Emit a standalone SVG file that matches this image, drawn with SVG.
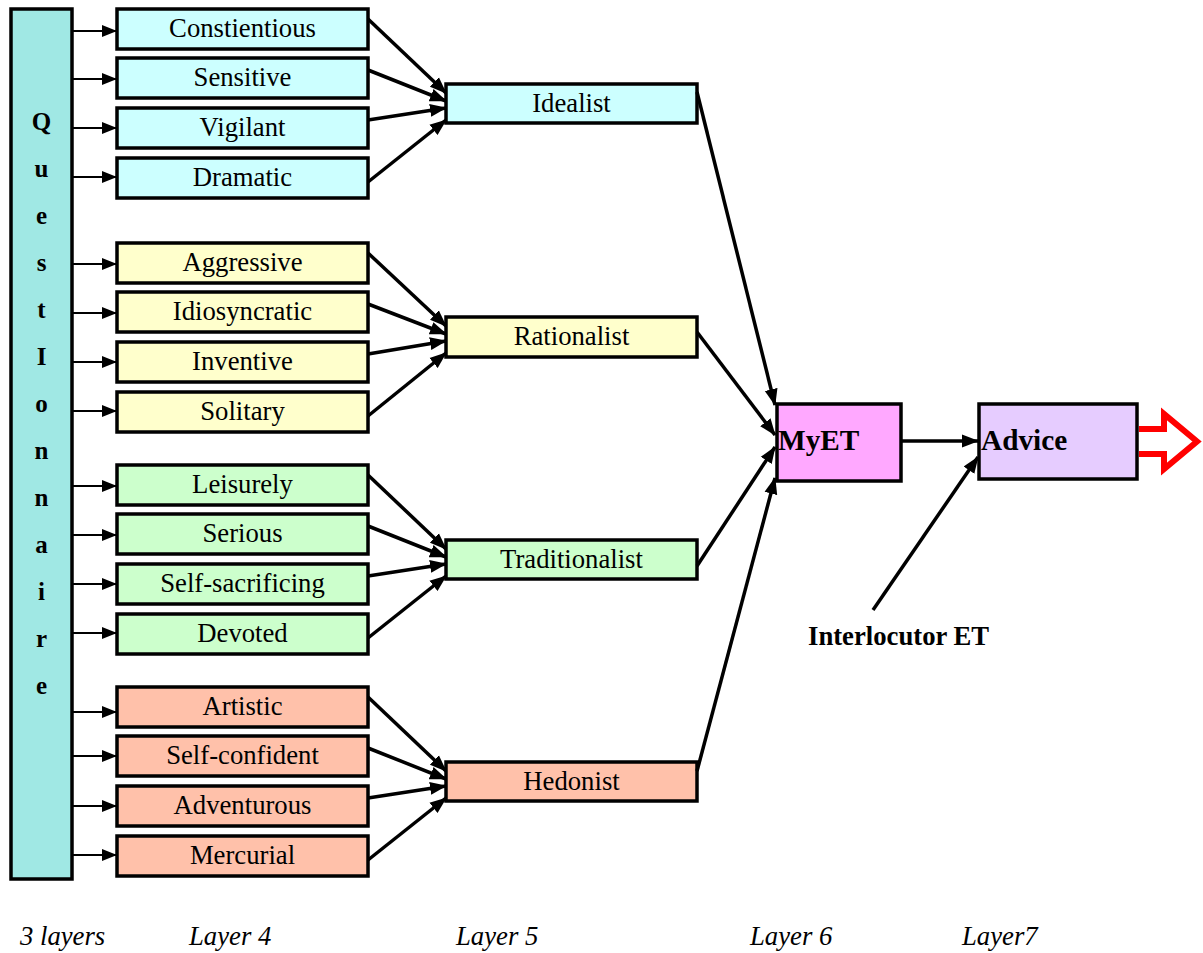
<svg xmlns="http://www.w3.org/2000/svg" width="1203" height="953" viewBox="0 0 1203 953">
<style>
.box{stroke:#000;stroke-width:3.5}
.t{font-family:"Liberation Serif","Times New Roman",serif;font-size:26.7px;text-anchor:middle;fill:#000}
.b{font-family:"Liberation Serif","Times New Roman",serif;font-weight:bold;fill:#000}
.q{font-size:25px;text-anchor:middle}
.i{font-family:"Liberation Serif","Times New Roman",serif;font-style:italic;font-size:26.7px;fill:#000}
.thin{stroke:#000;stroke-width:2;fill:none}
.thick{stroke:#000;stroke-width:3.5;fill:none}
.c1{fill:#CCFFFF}.c2{fill:#FFFFCC}.c3{fill:#CCFFCC}.c4{fill:#FFC1AA}
</style>
<defs>
<marker id="ah" markerUnits="userSpaceOnUse" markerWidth="17" markerHeight="14" refX="16" refY="7" orient="auto">
<path d="M0,0.5 L17,7 L0,13.5 z" fill="#000"/>
</marker>
<marker id="ahs" markerUnits="userSpaceOnUse" markerWidth="15" markerHeight="12" refX="15" refY="6" orient="auto">
<path d="M0,0 L15,6 L0,12 z" fill="#000"/>
</marker>
</defs>
<rect width="1203" height="953" fill="#fff"/>
<g id="questionnaire">
<rect class="box" x="11" y="9" width="61" height="870" fill="#A0E8E4"/>
<g class="b q">
<text x="41.5" y="130">Q</text><text x="41.5" y="177">u</text><text x="41.5" y="224">e</text><text x="41.5" y="271">s</text><text x="41.5" y="318">t</text><text x="41.5" y="365">I</text><text x="41.5" y="412">o</text><text x="41.5" y="459">n</text><text x="41.5" y="506">n</text><text x="41.5" y="553">a</text><text x="41.5" y="600">i</text><text x="41.5" y="647">r</text><text x="41.5" y="694">e</text>
</g>
</g>
<g id="constientious"><rect class="box c1" x="117" y="9" width="251" height="40"/><text class="t" x="242.5" y="37">Constientious</text></g>
<g id="sensitive"><rect class="box c1" x="117" y="58" width="251" height="40"/><text class="t" x="242.5" y="86">Sensitive</text></g>
<g id="vigilant"><rect class="box c1" x="117" y="108" width="251" height="40"/><text class="t" x="242.5" y="136">Vigilant</text></g>
<g id="dramatic"><rect class="box c1" x="117" y="158" width="251" height="40"/><text class="t" x="242.5" y="186">Dramatic</text></g>
<g id="aggressive"><rect class="box c2" x="117" y="243" width="251" height="40"/><text class="t" x="242.5" y="271">Aggressive</text></g>
<g id="idiosyncratic"><rect class="box c2" x="117" y="292" width="251" height="40"/><text class="t" x="242.5" y="320">Idiosyncratic</text></g>
<g id="inventive"><rect class="box c2" x="117" y="342" width="251" height="40"/><text class="t" x="242.5" y="370">Inventive</text></g>
<g id="solitary"><rect class="box c2" x="117" y="392" width="251" height="40"/><text class="t" x="242.5" y="420">Solitary</text></g>
<g id="leisurely"><rect class="box c3" x="117" y="465" width="251" height="40"/><text class="t" x="242.5" y="493">Leisurely</text></g>
<g id="serious"><rect class="box c3" x="117" y="514" width="251" height="40"/><text class="t" x="242.5" y="542">Serious</text></g>
<g id="self-sacrificing"><rect class="box c3" x="117" y="564" width="251" height="40"/><text class="t" x="242.5" y="592">Self-sacrificing</text></g>
<g id="devoted"><rect class="box c3" x="117" y="614" width="251" height="40"/><text class="t" x="242.5" y="642">Devoted</text></g>
<g id="artistic"><rect class="box c4" x="117" y="687" width="251" height="40"/><text class="t" x="242.5" y="715">Artistic</text></g>
<g id="self-confident"><rect class="box c4" x="117" y="736" width="251" height="40"/><text class="t" x="242.5" y="764">Self-confident</text></g>
<g id="adventurous"><rect class="box c4" x="117" y="786" width="251" height="40"/><text class="t" x="242.5" y="814">Adventurous</text></g>
<g id="mercurial"><rect class="box c4" x="117" y="836" width="251" height="40"/><text class="t" x="242.5" y="864">Mercurial</text></g>
<g id="idealist"><rect class="box c1" x="446" y="84" width="251" height="39"/><text class="t" x="571.5" y="112">Idealist</text></g>
<g id="rationalist"><rect class="box c2" x="446" y="317" width="251" height="40"/><text class="t" x="571.5" y="345">Rationalist</text></g>
<g id="traditionalist"><rect class="box c3" x="446" y="540" width="251" height="39"/><text class="t" x="571.5" y="568">Traditionalist</text></g>
<g id="hedonist"><rect class="box c4" x="446" y="762" width="251" height="39"/><text class="t" x="571.5" y="790">Hedonist</text></g>
<g id="myet"><rect class="box" x="777" y="404" width="124" height="77" fill="#FFA8FF"/><text class="b" x="778" y="450" font-size="29.3">MyET</text></g>
<g id="advice"><rect class="box" x="979" y="404" width="158" height="75" fill="#E6CCFF"/><text class="b" x="981" y="450" font-size="29.3">Advice</text></g>
<g id="output-arrow"><path d="M1139,429 H1164 V414 L1197,441.5 L1164,469 V454 H1139" fill="#fff" stroke="#FF0000" stroke-width="6"/></g>
<g id="interlocutor"><text class="b" x="808" y="645" font-size="26.7">Interlocutor ET</text></g>
<g id="connectors">
<g class="thin" marker-end="url(#ahs)">
<line x1="72" y1="31" x2="117" y2="31"/><line x1="72" y1="79" x2="117" y2="79"/><line x1="72" y1="128" x2="117" y2="128"/><line x1="72" y1="177" x2="117" y2="177"/>
<line x1="72" y1="264" x2="117" y2="264"/><line x1="72" y1="313" x2="117" y2="313"/><line x1="72" y1="362" x2="117" y2="362"/><line x1="72" y1="411" x2="117" y2="411"/>
<line x1="72" y1="486" x2="117" y2="486"/><line x1="72" y1="535" x2="117" y2="535"/><line x1="72" y1="584" x2="117" y2="584"/><line x1="72" y1="633" x2="117" y2="633"/>
<line x1="72" y1="712" x2="117" y2="712"/><line x1="72" y1="756" x2="117" y2="756"/><line x1="72" y1="806" x2="117" y2="806"/><line x1="72" y1="855" x2="117" y2="855"/>
</g>
<g class="thick" marker-end="url(#ah)">
<line x1="368" y1="19" x2="446" y2="93"/><line x1="368" y1="70" x2="446" y2="101"/><line x1="368" y1="120" x2="446" y2="108"/><line x1="368" y1="182" x2="446" y2="120"/>
<line x1="368" y1="253" x2="446" y2="326"/><line x1="368" y1="304" x2="446" y2="334"/><line x1="368" y1="354" x2="446" y2="341"/><line x1="368" y1="416" x2="446" y2="353"/>
<line x1="368" y1="475" x2="446" y2="549"/><line x1="368" y1="526" x2="446" y2="557"/><line x1="368" y1="576" x2="446" y2="564"/><line x1="368" y1="638" x2="446" y2="576"/>
<line x1="368" y1="697" x2="446" y2="771"/><line x1="368" y1="748" x2="446" y2="779"/><line x1="368" y1="798" x2="446" y2="786"/><line x1="368" y1="860" x2="446" y2="798"/>
<line x1="697" y1="92" x2="775" y2="405"/><line x1="697" y1="332" x2="775" y2="435"/><line x1="697" y1="566" x2="775" y2="447"/><line x1="697" y1="771" x2="775" y2="478"/>
<line x1="901" y1="441" x2="978" y2="441"/>
<line x1="873" y1="610" x2="978" y2="457"/>
</g>
</g>
<g id="layer-labels">
<text class="i" x="20" y="945">3 layers</text>
<text class="i" x="189" y="945">Layer 4</text>
<text class="i" x="456" y="945">Layer 5</text>
<text class="i" x="750" y="945">Layer 6</text>
<text class="i" x="962" y="945">Layer7</text>
</g>
</svg>
